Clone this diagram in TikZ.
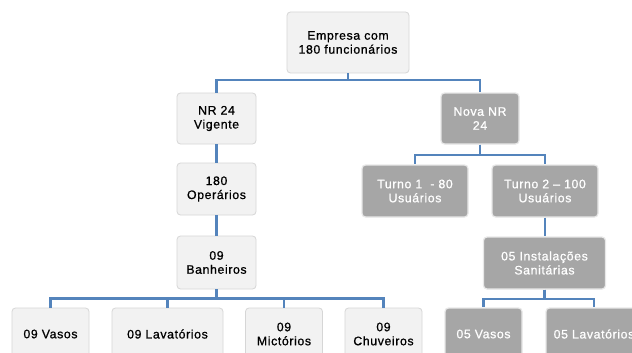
\documentclass[tikz,border=0pt]{standalone}
\usepackage{fontspec}
\setmainfont{Liberation Sans}[LetterSpace=5,FakeBold=0.8]
\usetikzlibrary{calc}
\definecolor{conncol}{RGB}{84,132,188}
\definecolor{lightfill}{RGB}{242,242,242}
\definecolor{lightedge}{RGB}{214,214,214}
\definecolor{darkfill}{RGB}{166,166,166}
\definecolor{darkedge}{RGB}{232,232,232}
\tikzset{
  box/.style={rectangle, rounded corners=3.5pt, align=center, inner sep=2pt,
    font=\fontsize{12.3}{14}\selectfont},
  lbox/.style={box, fill=lightfill, draw=lightedge, line width=0.8pt, text=black},
  dbox/.style={box, fill=darkfill, draw=darkedge, line width=1.2pt, text=white},
  conn/.style={draw=conncol, line width=2.1pt},
}
\begin{document}
\begin{tikzpicture}[x=1pt,y=-1pt]
\useasboundingbox (0,0) rectangle (632,353);
\fill[white] (0,0) rectangle (632,353);
\clip (0,0) rectangle (632,353);
% nodes
\node[lbox, minimum width=122pt, minimum height=61pt] (emp) at (348,42.5) {Empresa com\\180 funcionários};
\node[lbox, minimum width=79pt, minimum height=51pt] (nr) at (216.5,118.5) {NR 24\\Vigente};
\node[lbox, minimum width=79pt, minimum height=52pt] (op) at (216.5,189) {180\\Operários};
\node[lbox, minimum width=79pt, minimum height=53pt] (ban) at (216.5,262.5) {09\\Banheiros};
\node[dbox, minimum width=78pt, minimum height=51pt] (nova) at (480,118.5) {Nova NR\\24};
\node[dbox, minimum width=106pt, minimum height=52pt] (t1) at (415,191) {Turno 1\ \ - 80\\Usuários};
\node[dbox, minimum width=106pt, minimum height=52pt] (t2) at (545,191) {Turno 2 – 100\\Usuários};
\node[dbox, minimum width=122pt, minimum height=52pt] (inst) at (544.5,263) {05 Instalações\\Sanitárias};
\node[lbox, minimum width=77pt, minimum height=52pt] (v9) at (50.5,334) {09 Vasos};
\node[lbox, minimum width=111pt, minimum height=52pt] (l9) at (167.5,334) {09 Lavatórios};
\node[lbox, minimum width=77pt, minimum height=52pt] (m9) at (284,334) {09\\Mictórios};
\node[lbox, minimum width=77pt, minimum height=52pt] (c9) at (383.5,334) {09\\Chuveiros};
\node[dbox, minimum width=77pt, minimum height=52pt] (v5) at (483.5,334) {05 Vasos};
\node[dbox, minimum width=96pt, minimum height=52pt] (l5) at (594,334) {05 Lavatórios};
% connectors
\draw[conn] (emp.south) -- (emp.south |- 0,80) -| (nr.north);
\draw[conn] (emp.south) -- (emp.south |- 0,80) -| (nova.north);
\draw[conn] (nr.south) -- (op.north);
\draw[conn] (op.south) -- (ban.north);
\foreach \c in {v9,l9,m9,c9}{
  \draw[conn] (ban.south) -- (ban.south |- 0,298.5) -| (\c.north);
}
\draw[conn] (nova.south) -- (nova.south |- 0,155) -| (t1.north);
\draw[conn] (nova.south) -- (nova.south |- 0,155) -| (t2.north);
\draw[conn] (t2.south) -- (t2.south |- inst.north);
\draw[conn] (inst.south) -- (inst.south |- 0,299) -| (v5.north);
\draw[conn] (inst.south) -- (inst.south |- 0,299) -| (l5.north);
\end{tikzpicture}
\end{document}
